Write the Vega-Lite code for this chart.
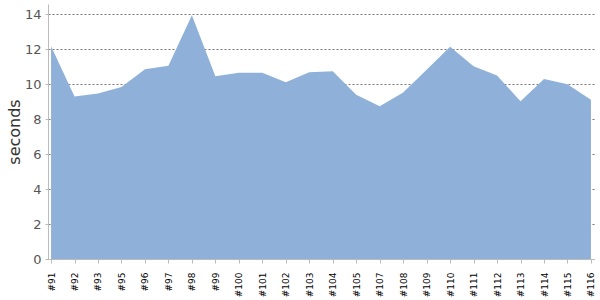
{
  "$schema": "https://vega.github.io/schema/vega-lite/v6.json",
  "autosize": "none",
  "width": 546,
  "height": 255,
  "padding": {"left": 48, "top": 4, "right": 6, "bottom": 41},
  "background": "white",
  "config": {"view": {"stroke": null}, "font": "DejaVu Sans"},
  "data": {"values": [
    {"build": "#91", "seconds": 12.18},
    {"build": "#92", "seconds": 9.31},
    {"build": "#93", "seconds": 9.47},
    {"build": "#95", "seconds": 9.85},
    {"build": "#96", "seconds": 10.86},
    {"build": "#97", "seconds": 11.07},
    {"build": "#98", "seconds": 13.96},
    {"build": "#99", "seconds": 10.46},
    {"build": "#100", "seconds": 10.67},
    {"build": "#101", "seconds": 10.67},
    {"build": "#102", "seconds": 10.12},
    {"build": "#103", "seconds": 10.69},
    {"build": "#104", "seconds": 10.75},
    {"build": "#105", "seconds": 9.41},
    {"build": "#107", "seconds": 8.74},
    {"build": "#108", "seconds": 9.54},
    {"build": "#109", "seconds": 10.84},
    {"build": "#110", "seconds": 12.15},
    {"build": "#111", "seconds": 11.03},
    {"build": "#112", "seconds": 10.5},
    {"build": "#113", "seconds": 9.03},
    {"build": "#114", "seconds": 10.31},
    {"build": "#115", "seconds": 10.0},
    {"build": "#116", "seconds": 9.12}
  ]},
  "mark": {"type": "area", "color": "#8FB1D9", "opacity": 1},
  "encoding": {
    "x": {
      "field": "build", "type": "ordinal", "sort": null,
      "scale": {"type": "point", "padding": 0.13},
      "axis": {
        "title": null, "labelAngle": -90, "labelFontSize": 9, "labelColor": "#000",
        "labelAlign": "right", "labelBaseline": "middle", "labelPadding": 9,
        "domainColor": "#bbb", "tickColor": "#bbb", "tickSize": 4, "grid": false
      }
    },
    "y": {
      "field": "seconds", "type": "quantitative",
      "scale": {"domain": [0, 14.6], "nice": false},
      "axis": {
        "title": "seconds", "titleFontSize": 16, "titleColor": "#333", "titleFontWeight": "normal",
        "titlePadding": 2,
        "values": [0, 2, 4, 6, 8, 10, 12, 14],
        "labelFontSize": 13, "labelColor": "#555", "labelPadding": 4,
        "domainColor": "#bbb", "tickColor": "#bbb", "tickSize": 3,
        "grid": true, "gridColor": "#777", "gridDash": [2, 2], "gridWidth": 1
      }
    }
  }
}
